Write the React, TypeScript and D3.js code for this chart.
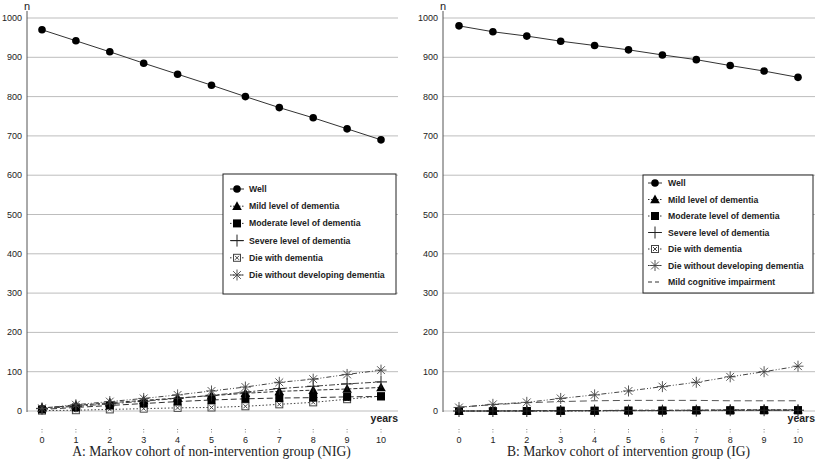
import React from "react";
import * as d3 from "d3";

const years = [0, 1, 2, 3, 4, 5, 6, 7, 8, 9, 10];
const yTicks = [0, 100, 200, 300, 400, 500, 600, 700, 800, 900, 1000];

// Panel A: non-intervention group
const aWell = [970, 942, 914, 885, 857, 829, 800, 772, 746, 718, 690];
const aMild = [8, 14, 21, 27, 33, 39, 45, 50, 53, 56, 60];
const aModerate = [4, 9, 14, 19, 24, 28, 31, 33, 34, 36, 37];
const aSevere = [6, 12, 18, 25, 32, 40, 48, 57, 63, 69, 74];
const aDieWith = [1, 2, 4, 6, 8, 9, 12, 17, 22, 30, 38];
const aDieWithout = [7, 16, 24, 32, 41, 51, 61, 73, 81, 93, 104];

// Panel B: intervention group
const bWell = [980, 965, 954, 941, 930, 919, 906, 894, 879, 865, 849];
const bMild = [0, 0, 1, 1, 1, 2, 2, 2, 3, 3, 3];
const bModerate = [0, 0, 0, 1, 1, 1, 1, 2, 2, 2, 2];
const bSevere = [0, 0, 0, 0, 1, 1, 1, 1, 2, 2, 2];
const bDieWith = [0, 0, 0, 0, 0, 1, 1, 1, 1, 2, 2];
const bDieWithout = [9, 17, 22, 32, 41, 51, 62, 73, 87, 100, 114];
const bMCI = [10, 16, 21, 24, 26, 27, 27, 27, 26, 26, 26];

const seriesNames = [
  "Well",
  "Mild level of dementia",
  "Moderate level of dementia",
  "Severe level of dementia",
  "Die with dementia",
  "Die without developing dementia",
  "Mild cognitive impairment",
];

type Kind = "well" | "mild" | "moderate" | "severe" | "diewith" | "diewo" | "mci";
const kinds: Kind[] = ["well", "mild", "moderate", "severe", "diewith", "diewo", "mci"];

const styles: Record<Kind, { dash: string; color: string }> = {
  well: { dash: "", color: "#333" },
  mild: { dash: "4,2", color: "#333" },
  moderate: { dash: "6,3", color: "#333" },
  severe: { dash: "6,2,2,2", color: "#444" },
  diewith: { dash: "1.5,2", color: "#444" },
  diewo: { dash: "5,2,1,2,1,2", color: "#444" },
  mci: { dash: "7,4", color: "#555" },
};

function Marker({ kind, x, y }: { kind: Kind; x: number; y: number }) {
  switch (kind) {
    case "well":
      return <circle cx={x} cy={y} r={3.8} fill="#000" />;
    case "mild":
      return <path d={`M${x},${y - 5}L${x + 4.8},${y + 3.8}L${x - 4.8},${y + 3.8}Z`} fill="#000" />;
    case "moderate":
      return <rect x={x - 4} y={y - 4} width={8} height={8} fill="#000" />;
    case "severe":
      return (
        <g stroke="#222" strokeWidth={1}>
          <line x1={x - 6} x2={x + 6} y1={y} y2={y} />
          <line x1={x} x2={x} y1={y - 6} y2={y + 6} />
        </g>
      );
    case "diewith":
      return (
        <g stroke="#444" strokeWidth={1} fill="#fff">
          <rect x={x - 3.5} y={y - 3.5} width={7} height={7} />
          <line x1={x - 2} x2={x + 2} y1={y - 2} y2={y + 2} />
          <line x1={x - 2} x2={x + 2} y1={y + 2} y2={y - 2} />
        </g>
      );
    case "diewo":
      return (
        <g stroke="#444" strokeWidth={0.9}>
          {[0, 45, 90, 135].map((a) => {
            const r = 5.5;
            const dx = Math.cos((a * Math.PI) / 180) * r;
            const dy = Math.sin((a * Math.PI) / 180) * r;
            return <line key={a} x1={x - dx} x2={x + dx} y1={y - dy} y2={y + dy} />;
          })}
        </g>
      );
    default:
      return null;
  }
}

type Panel = {
  axisX: number;
  x0: number;
  x1: number;
  gridEnd: number;
  caption: string;
  series: { kind: Kind; values: number[] }[];
  legend: { x: number; y: number; w: number; h: number; first: number; step: number; symX: number; textX: number };
};

const yScale = d3.scaleLinear().domain([0, 1000]).range([411, 18]);

function ChartPanel({ p }: { p: Panel }) {
  const xScale = d3.scaleLinear().domain([0, 10]).range([p.x0, p.x1]);
  const line = d3
    .line<number>()
    .x((_, i) => xScale(years[i]))
    .y((v) => yScale(v));
  const drawOrder: Kind[] = ["mci", "diewith", "moderate", "mild", "severe", "diewo", "well"];
  const ordered = drawOrder
    .map((k) => p.series.find((s) => s.kind === k))
    .filter(Boolean) as { kind: Kind; values: number[] }[];
  const L = p.legend;
  const legendKinds = p.series.map((s) => s.kind).sort((a, b) => kinds.indexOf(a) - kinds.indexOf(b));
  return (
    <g>
      {yTicks.map((t) => (
        <g key={t}>
          <line x1={p.axisX} x2={p.gridEnd} y1={yScale(t)} y2={yScale(t)} stroke="#bdbdbd" strokeWidth={1} />
          <text x={p.axisX - 5} y={yScale(t) + 3} textAnchor="end" fontSize={9} fontFamily="Liberation Sans, Arial, sans-serif" fill="#222">
            {t}
          </text>
        </g>
      ))}
      <line x1={p.axisX} x2={p.axisX} y1={11} y2={412} stroke="#555" strokeWidth={1} />
      <text x={p.axisX} y={10} textAnchor="middle" fontSize={11} fontFamily="Liberation Sans, Arial, sans-serif" fill="#222">
        n
      </text>
      {years.map((yr) => (
        <g key={yr}>
          <line x1={xScale(yr)} x2={xScale(yr)} y1={429} y2={434} stroke="#888" strokeDasharray="1,1.5" />
          <text x={xScale(yr)} y={443} textAnchor="middle" fontSize={9} fontFamily="Liberation Sans, Arial, sans-serif" fill="#222">
            {yr}
          </text>
        </g>
      ))}
      <text x={p.gridEnd} y={422} textAnchor="end" fontSize={10.5} fontWeight="bold" fontFamily="Liberation Sans, Arial, sans-serif" fill="#222">
        years
      </text>
      {ordered.map((s) => (
        <path
          key={s.kind}
          d={line(s.values) || ""}
          fill="none"
          stroke={styles[s.kind].color}
          strokeWidth={1}
          strokeDasharray={styles[s.kind].dash}
        />
      ))}
      {ordered.map((s) =>
        s.values.map((v, i) => <Marker key={s.kind + i} kind={s.kind} x={xScale(years[i])} y={yScale(v)} />)
      )}
      <text x={(p.x0 + p.x1) / 2} y={456} textAnchor="middle" fontSize={13.6} fontFamily="Liberation Serif, Times New Roman, serif" fill="#222">
        {p.caption}
      </text>
      <rect x={L.x} y={L.y} width={L.w} height={L.h} fill="#fff" stroke="#222" strokeWidth={1} />
      {legendKinds.map((k, i) => {
        const cy = L.first + i * L.step;
        return (
          <g key={k}>
            <line x1={L.symX - 7} x2={L.symX + 7} y1={cy} y2={cy} stroke="#333" strokeDasharray={k === "mci" ? "4,3" : k === "well" || k === "severe" ? "" : "1.5,1.5"} />
            <Marker kind={k} x={L.symX} y={cy} />
            <text x={L.textX} y={cy + 3} fontSize={8.7} fontWeight="bold" fontFamily="Liberation Sans, Arial, sans-serif" fill="#222">
              {seriesNames[kinds.indexOf(k)]}
            </text>
          </g>
        );
      })}
    </g>
  );
}

const panelA: Panel = {
  axisX: 27,
  x0: 42,
  x1: 381,
  gridEnd: 398,
  caption: "A: Markov cohort of non-intervention group (NIG)",
  series: [
    { kind: "well", values: aWell },
    { kind: "mild", values: aMild },
    { kind: "moderate", values: aModerate },
    { kind: "severe", values: aSevere },
    { kind: "diewith", values: aDieWith },
    { kind: "diewo", values: aDieWithout },
  ],
  legend: { x: 223, y: 174, w: 173, h: 120, first: 189, step: 17.2, symX: 237, textX: 249 },
};

const panelB: Panel = {
  axisX: 443,
  x0: 459,
  x1: 798,
  gridEnd: 815,
  caption: "B: Markov cohort of intervention group (IG)",
  series: [
    { kind: "well", values: bWell },
    { kind: "mild", values: bMild },
    { kind: "moderate", values: bModerate },
    { kind: "severe", values: bSevere },
    { kind: "diewith", values: bDieWith },
    { kind: "diewo", values: bDieWithout },
    { kind: "mci", values: bMCI },
  ],
  legend: { x: 643, y: 175, w: 170, h: 118, first: 183, step: 16.5, symX: 655, textX: 668 },
};

export default function App() {
  return (
    <svg width={823} height={465} style={{ position: "absolute", left: 0, top: 0, background: "#fff" }}>
      <rect width={823} height={465} fill="#fff" />
      <ChartPanel p={panelA} />
      <ChartPanel p={panelB} />
    </svg>
  );
}
